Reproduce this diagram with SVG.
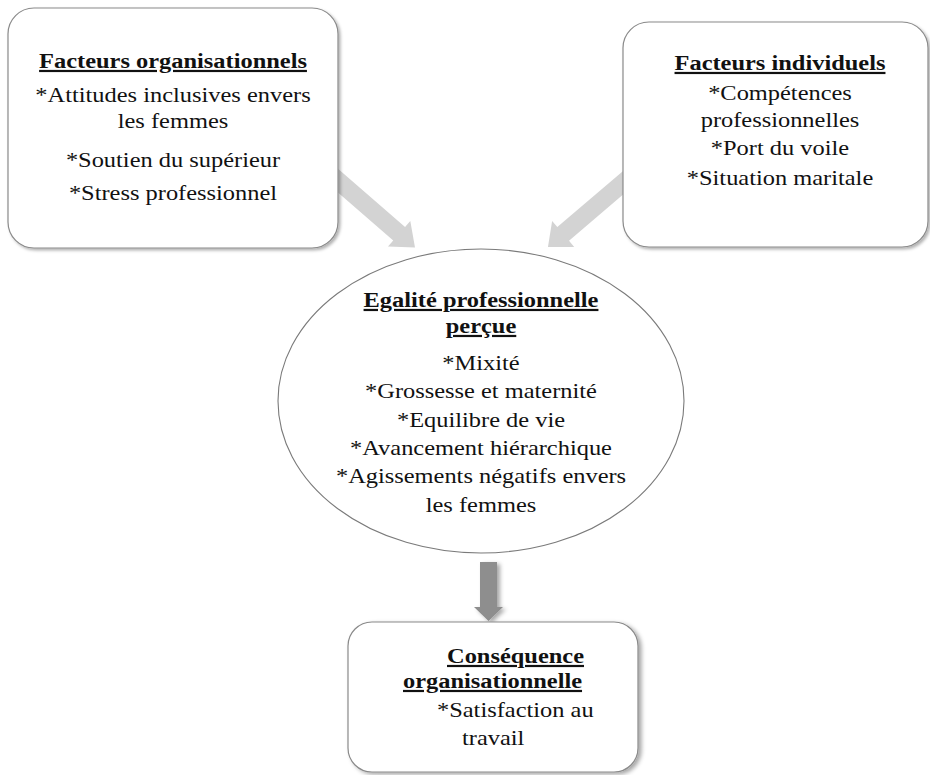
<svg xmlns="http://www.w3.org/2000/svg" width="930" height="775" viewBox="0 0 930 775">
<style>
.box{fill:#fff;stroke:#8a8a8a;stroke-width:1.2}
text{font-family:'Liberation Serif','DejaVu Serif',serif;font-size:22px;fill:#111}
.t{text-anchor:middle}
.tl{text-anchor:start}
.h{font-weight:bold;text-decoration:underline}
.light{fill:#d3d3d3}
.dark{fill:#8e8e8e}
</style>
<defs>
<filter id="sh" x="-10%" y="-10%" width="125%" height="125%">
<feDropShadow dx="2" dy="2" stdDeviation="1.5" flood-color="#000" flood-opacity="0.3"/>
</filter>
<filter id="sh2" x="-20%" y="-20%" width="150%" height="150%">
<feDropShadow dx="3" dy="2" stdDeviation="2" flood-color="#000" flood-opacity="0.35"/>
</filter>
</defs>
<rect width="930" height="775" fill="#fff"/>

<g id="connectors">
<g transform="translate(335,178) rotate(41)">
<polygon class="light" points="-10,-9 85,-9 85,-17 106,0 85,17 85,9 -10,9"/>
</g>
<g transform="translate(624,182) rotate(139.5)">
<polygon class="light" points="-10,-9 80,-9 80,-17 100,0 80,17 80,9 -10,9"/>
</g>
<polygon class="dark" filter="url(#sh2)" points="480,562 497,562 497,607 503,607 488.5,621 474,607 480,607"/>
</g>

<g id="node-org" font-family="Liberation Serif, DejaVu Serif, serif">
<rect class="box" filter="url(#sh)" x="8" y="8" width="330" height="240" rx="26" ry="26"/>
<g transform="translate(173,0) scale(1.11,1)">
<text class="t h" x="0" y="68">Facteurs organisationnels</text>
<text class="t" x="0" y="102">*Attitudes inclusives envers</text>
<text class="t" x="0" y="128">les femmes</text>
<text class="t" x="0" y="167">*Soutien du supérieur</text>
<text class="t" x="0" y="200">*Stress professionnel</text>
</g>
</g>

<g id="node-ind">
<rect class="box" filter="url(#sh)" x="623" y="22" width="305" height="225" rx="26" ry="26"/>
<g transform="translate(780,0) scale(1.11,1)">
<text class="t h" x="0" y="70">Facteurs individuels</text>
<text class="t" x="0" y="100">*Compétences</text>
<text class="t" x="0" y="127">professionnelles</text>
<text class="t" x="0" y="155">*Port du voile</text>
<text class="t" x="0" y="185">*Situation maritale</text>
</g>
</g>

<g id="node-egalite">
<ellipse cx="481" cy="401" rx="203" ry="152" fill="#fff" stroke="#7a7a7a" stroke-width="1.1"/>
<g transform="translate(481,0) scale(1.11,1)">
<text class="t h" x="0" y="307">Egalité professionnelle</text>
<text class="t h" x="0" y="333">perçue</text>
<text class="t" x="0" y="370">*Mixité</text>
<text class="t" x="0" y="398">*Grossesse et maternité</text>
<text class="t" x="0" y="427">*Equilibre de vie</text>
<text class="t" x="0" y="455">*Avancement hiérarchique</text>
<text class="t" x="0" y="483">*Agissements négatifs envers</text>
<text class="t" x="0" y="512">les femmes</text>
</g>
</g>

<g id="node-consequence">
<rect class="box" filter="url(#sh2)" x="348" y="622" width="290" height="150" rx="24" ry="24"/>
<g transform="translate(447,663) scale(1.11,1)"><text class="tl h" x="0" y="0">Conséquence</text></g>
<g transform="translate(403,688) scale(1.11,1)"><text class="tl h" x="0" y="0">organisationnelle</text></g>
<g transform="translate(437,717) scale(1.11,1)"><text class="tl" x="0" y="0">*Satisfaction au</text></g>
<g transform="translate(462,745) scale(1.11,1)"><text class="tl" x="0" y="0">travail</text></g>
</g>
</svg>
